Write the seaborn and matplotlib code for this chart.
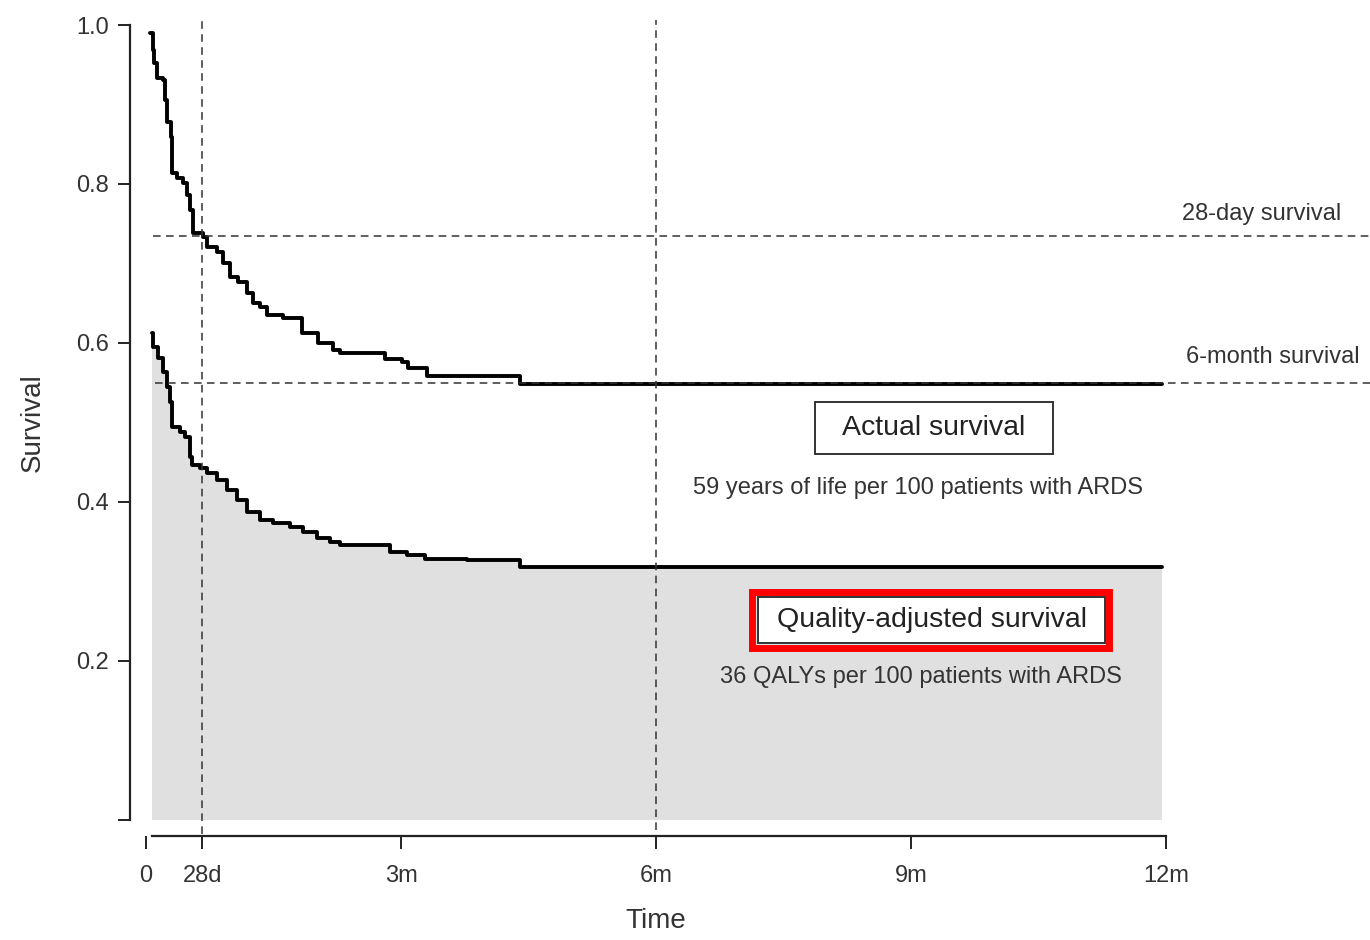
import matplotlib
matplotlib.use("Agg")
import matplotlib.pyplot as plt
from matplotlib.patches import Rectangle
import seaborn as sns
import pandas as pd

# Kaplan-Meier style step data (time in months)
times_actual = [0.05, 0.08, 0.09, 0.13, 0.20, 0.22, 0.25, 0.29, 0.31, 0.36,
                0.44, 0.48, 0.52, 0.55, 0.67, 0.72, 0.84, 0.91, 0.99, 1.08,
                1.19, 1.26, 1.34, 1.42, 1.61, 1.84, 2.02, 2.20, 2.28, 2.81,
                3.01, 3.08, 3.31, 4.40, 11.95]
surv_actual = [0.99, 0.969, 0.952, 0.933, 0.931, 0.906, 0.878, 0.859, 0.814, 0.807,
               0.801, 0.786, 0.767, 0.738, 0.733, 0.721, 0.715, 0.700, 0.683, 0.677,
               0.663, 0.650, 0.645, 0.635, 0.631, 0.612, 0.600, 0.591, 0.587, 0.580,
               0.576, 0.568, 0.558, 0.548, 0.548]

times_qa = [0.07, 0.08, 0.14, 0.20, 0.25, 0.28, 0.31, 0.40, 0.46, 0.52,
            0.54, 0.64, 0.72, 0.84, 0.95, 1.07, 1.19, 1.34, 1.49, 1.69,
            1.85, 2.01, 2.16, 2.28, 2.87, 3.07, 3.28, 3.78, 4.40, 11.95]
surv_qa = [0.613, 0.595, 0.581, 0.564, 0.545, 0.526, 0.494, 0.488, 0.482, 0.457,
           0.447, 0.443, 0.436, 0.428, 0.415, 0.403, 0.387, 0.377, 0.374, 0.369,
           0.362, 0.355, 0.350, 0.346, 0.337, 0.333, 0.328, 0.327, 0.318, 0.318]

survival_28d = 0.735
survival_6m = 0.55
day28_pos = 0.66
month6_pos = 6

xtick_pos = [0, day28_pos, 3, 6, 9, 12]
xtick_labels = ["0", "28d", "3m", "6m", "9m", "12m"]
ytick_pos = [0, 0.2, 0.4, 0.6, 0.8, 1.0]
ytick_labels = ["", "0.2", "0.4", "0.6", "0.8", "1.0"]

df_actual = pd.DataFrame({"time": times_actual, "survival": surv_actual})
df_qa = pd.DataFrame({"time": times_qa, "survival": surv_qa})

sns.set_style("ticks")
plt.rcParams["font.family"] = ["Liberation Sans", "DejaVu Sans"]

fig = plt.figure(figsize=(13.7, 9.4), dpi=100)
ax = fig.add_axes([0.1066, 0.1277, 0.7445, 0.8457])

# grey area under quality-adjusted curve
ax.fill_between(times_qa, surv_qa, 0, step="post", color="#e0e0e0", linewidth=0)

sns.lineplot(data=df_actual, x="time", y="survival", ax=ax, estimator=None,
             drawstyle="steps-post", color="black", linewidth=2.8)
sns.lineplot(data=df_qa, x="time", y="survival", ax=ax, estimator=None,
             drawstyle="steps-post", color="black", linewidth=2.8)

# reference lines
dash = dict(color="#333333", linewidth=1.1, linestyle=(0, (5, 3.5)), clip_on=False)
ax.hlines(survival_28d, 0.08, 14.5, **dash)
ax.hlines(survival_6m, 0.1, 14.5, **dash)
ax.axvline(day28_pos, ymin=-0.018, ymax=1.006, **dash)
ax.axvline(month6_pos, ymin=-0.012, ymax=1.006, **dash)

ax.set_xlim(0, 12)
ax.set_ylim(0, 1.0)
ax.set_xticks(xtick_pos)
ax.set_xticklabels(xtick_labels)
ax.set_yticks(ytick_pos)
ax.set_yticklabels(ytick_labels)
ax.tick_params(axis="both", labelsize=17, length=9, width=1.4, colors="#222222",
               labelcolor="#333333")
ax.tick_params(axis="x", pad=12)
ax.tick_params(axis="y", pad=6)
ax.set_xlabel("Time", fontsize=20, color="#333333", labelpad=15)
ax.set_ylabel("Survival", fontsize=20, color="#333333", labelpad=22)

sns.despine(ax=ax, offset=11.5)
ax.spines["bottom"].set_bounds(0.07, 12)
ax.spines["left"].set_bounds(0, 1.0)
for s in ["bottom", "left"]:
    ax.spines[s].set_linewidth(1.6)
    ax.spines[s].set_color("#222222")

# labels for reference lines
ax.text(13.13, 0.762, "28-day survival", fontsize=17, color="#333333",
        ha="center", va="center", clip_on=False)
ax.text(13.26, 0.582, "6-month survival", fontsize=17, color="#333333",
        ha="center", va="center", clip_on=False)

# annotation boxes
ax.add_patch(Rectangle((7.87, 0.460), 2.80, 0.066, facecolor="white",
                       edgecolor="#333333", linewidth=1.4, zorder=4))
ax.text(9.27, 0.493, "Actual survival", fontsize=20.5, color="#222222",
        ha="center", va="center", zorder=5)
ax.text(9.08, 0.418, "59 years of life per 100 patients with ARDS", fontsize=17,
        color="#333333", ha="center", va="center")

ax.add_patch(Rectangle((7.20, 0.2226), 4.08, 0.0579, facecolor="white",
                       edgecolor="#333333", linewidth=1.4, zorder=4))
ax.add_patch(Rectangle((7.135, 0.2157), 4.20, 0.0705, facecolor="none",
                       edgecolor="#ff0000", linewidth=5, zorder=6))
ax.text(9.25, 0.252, "Quality-adjusted survival", fontsize=20.5, color="#222222",
        ha="center", va="center", zorder=5)
ax.text(9.12, 0.180, "36 QALYs per 100 patients with ARDS", fontsize=17,
        color="#333333", ha="center", va="center")

fig.savefig("out.png", dpi=100)
